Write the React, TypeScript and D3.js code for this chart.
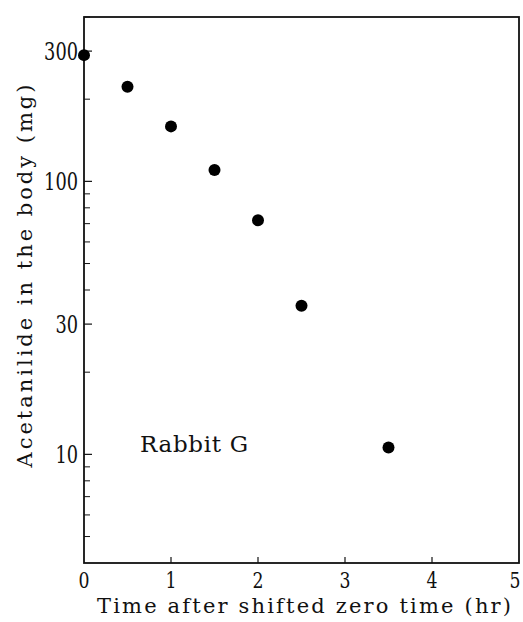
import * as d3 from 'd3';
import React, { useEffect, useRef } from 'react';

// time after shifted zero time (hr)
const times = [0, 0.5, 1, 1.5, 2, 2.5, 3.5];
// acetanilide in the body (mg)
const amounts = [290, 222, 159, 110, 72, 35, 10.6];

const xTicks = [0, 1, 2, 3, 4, 5];
const yMajor = [10, 30, 100, 300];
const yMinor = [5, 6, 7, 8, 9, 20, 40, 50, 60, 70, 80, 90, 200, 400];

const App = () => {
  const ref = useRef<SVGSVGElement>(null);

  useEffect(() => {
    const width = 523, height = 622;
    const left = 84, right = 519, top = 17, bottom = 563;
    const font = 'DejaVu Serif, serif';

    const svg = d3.select(ref.current);
    svg.selectAll('*').remove();

    const x = d3.scaleLinear().domain([0, 5]).range([left, right]);
    const y = d3.scaleLog().domain([4, 400]).range([bottom, top]);

    // frame
    svg.append('rect')
      .attr('x', left).attr('y', top)
      .attr('width', right - left).attr('height', bottom - top)
      .attr('fill', 'none').attr('stroke', '#111').attr('stroke-width', 1.8);

    // x ticks (inward)
    svg.append('g').selectAll('line')
      .data(xTicks.slice(1, -1))
      .join('line')
      .attr('x1', d => x(d)).attr('x2', d => x(d))
      .attr('y1', bottom).attr('y2', bottom - 6)
      .attr('stroke', '#111').attr('stroke-width', 1.2);

    svg.append('g').selectAll('text')
      .data(xTicks)
      .join('text')
      .attr('x', d => Math.min(x(d), 515))
      .attr('y', bottom + 25)
      .attr('text-anchor', 'middle')
      .attr('font-family', font).attr('font-size', 23)
      .attr('textLength', 11)
      .attr('lengthAdjust', 'spacingAndGlyphs')
      .attr('fill', '#111')
      .text(d => d);

    // y ticks
    svg.append('g').selectAll('line')
      .data(yMajor)
      .join('line')
      .attr('x1', left).attr('x2', left + 8)
      .attr('y1', d => y(d)).attr('y2', d => y(d))
      .attr('stroke', '#111').attr('stroke-width', 1.2);

    svg.append('g').selectAll('line')
      .data(yMinor)
      .join('line')
      .attr('x1', left).attr('x2', left + 6)
      .attr('y1', d => y(d)).attr('y2', d => y(d))
      .attr('stroke', '#111').attr('stroke-width', 1);

    svg.append('g').selectAll('text')
      .data(yMajor)
      .join('text')
      .attr('x', left - 6)
      .attr('y', d => y(d) + 9)
      .attr('text-anchor', 'end')
      .attr('font-family', font).attr('font-size', 24)
      .attr('textLength', d => String(d).length * 11.3)
      .attr('lengthAdjust', 'spacingAndGlyphs')
      .attr('fill', '#111')
      .text(d => d);

    // data points
    svg.append('g').selectAll('circle')
      .data(times.map((t, i) => ({ t, v: amounts[i] })))
      .join('circle')
      .attr('cx', d => x(d.t))
      .attr('cy', d => y(d.v))
      .attr('r', 6)
      .attr('fill', '#000');

    // label
    svg.append('text')
      .attr('x', 140).attr('y', 452)
      .attr('font-family', font).attr('font-size', 23)
      .attr('textLength', 108)
      .attr('fill', '#111')
      .text('Rabbit G');

    // axis titles
    svg.append('text')
      .attr('x', 304).attr('y', 613)
      .attr('text-anchor', 'middle')
      .attr('font-family', font).attr('font-size', 21)
      .attr('textLength', 414)
      .attr('fill', '#111')
      .text('Time after shifted zero time (hr)');

    svg.append('text')
      .attr('transform', 'translate(32,276) rotate(-90)')
      .attr('text-anchor', 'middle')
      .attr('font-family', font).attr('font-size', 21)
      .attr('textLength', 383)
      .attr('fill', '#111')
      .text('Acetanilide in the body (mg)');

    svg.attr('width', width).attr('height', height);
  }, []);

  return (
    <svg ref={ref} width={523} height={622}
      style={{ position: 'absolute', left: 0, top: 0, background: '#fff' }} />
  );
};

export default App;
